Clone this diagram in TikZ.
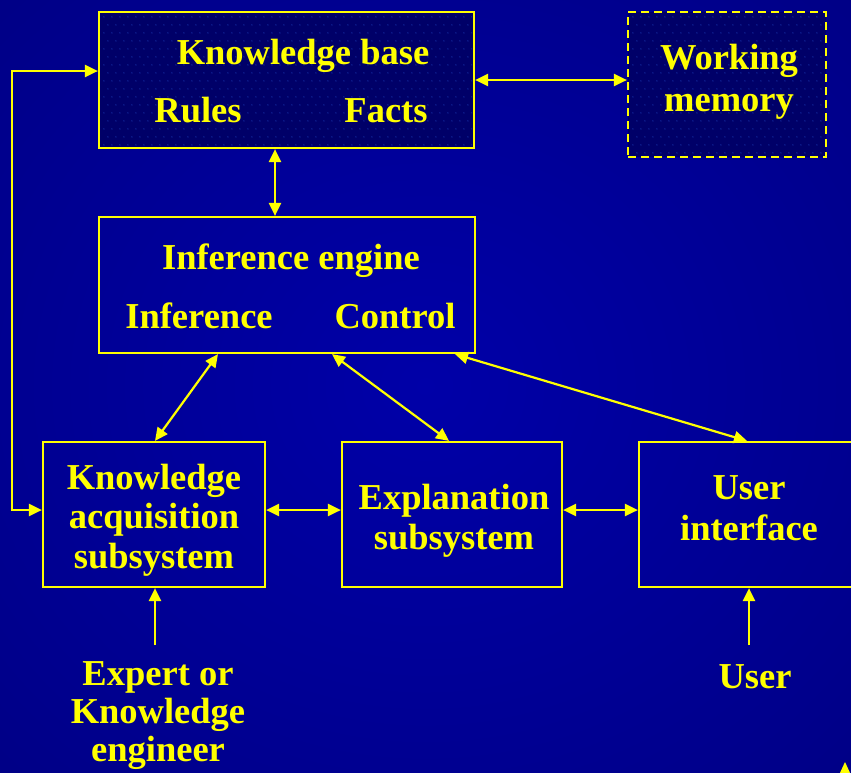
\documentclass[tikz,border=0pt]{standalone}
\usepackage{fontspec}
\setmainfont{Liberation Serif}
\usetikzlibrary{arrows.meta,calc}
\definecolor{hi}{RGB}{255,255,0}
\definecolor{bgin}{RGB}{0,0,168}
\definecolor{bgmid}{RGB}{0,0,140}
\definecolor{bgout}{RGB}{0,0,96}
\definecolor{panel}{RGB}{0,0,104}
\definecolor{speck}{RGB}{22,48,165}
\pgfdeclareradialshading{backglow}{\pgfpoint{0bp}{0bp}}{color(0bp)=(bgin); color(30bp)=(bgmid); color(72bp)=(bgout)}
\begin{document}
\begin{tikzpicture}[x=1pt,y=-1pt,
  box/.style={draw=hi, line width=2.2pt, inner sep=0pt, rectangle},
  txt/.style={text=hi, inner sep=0pt, align=center, font=\bfseries\fontsize{36.5}{#1}\selectfont},
  txt/.default=40,
  tip/.tip={Triangle[length=13pt,width=12pt]},
  link/.style={draw=hi, line width=2.2pt, tip-tip},
  feed/.style={draw=hi, line width=2.2pt, -tip}]
\useasboundingbox (0,0) rectangle (851,772);
\clip (0,0) rectangle (851,772);
\shade[shading=backglow] (0,0) rectangle (851,772);

% stores: filled panels with a fine dot texture
\node[box, fill=panel, minimum width=375pt, minimum height=136pt] (kb) at (286.5,80) {};
\node[box, fill=panel, dash pattern=on 8pt off 5pt, minimum width=198pt, minimum height=145pt] (wm) at (727,84.5) {};
\foreach \p/\cols/\rows in {kb/46/16, wm/24/17}{
  \begin{scope}
    \clip ($(\p.south west)+(3,-3)$) rectangle ($(\p.north east)+(-3,3)$);
    \path (\p.north west) coordinate (o);
    \foreach \r in {0,...,\rows}{
      \foreach \c in {0,...,\cols}{
        \fill[speck] ($(o)+({6+8*\c+4*mod(\r,2)},{6+8*\r})$) circle (0.7pt);
      }
    }
  \end{scope}
}

% processing boxes
\node[box, minimum width=376pt, minimum height=136pt] (ie) at (287,285) {};
\node[box, minimum width=222pt, minimum height=145pt] (acq) at (154,514.5) {};
\node[box, minimum width=220pt, minimum height=145pt] (expl) at (452,514.5) {};
\node[box, minimum width=220pt, minimum height=145pt] (ui) at (749,514.5) {};

% labels
\node[txt, anchor=base] (kbt) at (303,64) {Knowledge base};
\node[txt, anchor=base] (rules) at (198,122) {Rules};
\node[txt, anchor=base] (facts) at (386,122) {Facts};
\node[txt=42, anchor=north] (wmt) at (729,43.7) {Working\\memory};
\node[txt, anchor=base] (iet) at (291,269) {Inference engine};
\node[txt, anchor=base] (inf) at (199,328) {Inference};
\node[txt, anchor=base] (ctl) at (395,328) {Control};
\node[txt=39.5, anchor=north] (acqt) at (154,463.7) {Knowledge\\acquisition\\subsystem};
\node[txt=40, anchor=north] (explt) at (454,483.7) {Explanation\\subsystem};
\node[txt=41, anchor=north] (uit) at (749,475.2) {User\\interface};
\node[txt=38, anchor=north] (expert) at (158,661) {Expert or\\Knowledge\\engineer};
\node[txt, anchor=base] (user) at (755,688) {User};

% connectors
\coordinate (loop corner) at (12,71);
\coordinate (expert tail) at (155,645);
\coordinate (user tail) at (749,645);
\draw[link] (kb.east) -- (kb.east -| wm.west);
\draw[link] (kb.south -| 275,0) -- (ie.north -| 275,0);
\draw[link] (acq.west |- 0,510) -| (loop corner) -- (kb.west |- loop corner);
\draw[link] (ie.south -| 218,0) -- (acq.north -| 155,0);
\draw[link] (ie.south -| 332,0) -- (expl.north -| 449,0);
\draw[link] (ie.south -| 455,0) -- (ui.north -| 747,0);
\draw[link] (acq.east |- 0,510) -- (expl.west |- 0,510);
\draw[link] (expl.east |- 0,510) -- (ui.west |- 0,510);
\draw[feed] (expert tail) -- (acq.south -| expert tail);
\draw[feed] (user tail) -- (ui.south -| user tail);
\fill[hi] (845,762) -- (851,775) -- (839,775) -- cycle;
\end{tikzpicture}
\end{document}
